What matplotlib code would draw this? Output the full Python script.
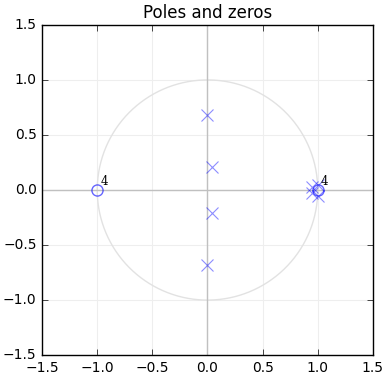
import numpy as np
import matplotlib
matplotlib.use("Agg")
import matplotlib.pyplot as plt

# zeros (with multiplicity) and poles
zeros_re = [-1.0, 1.0]
zeros_im = [0.0, 0.0]
zeros_mult = [4, 4]
poles_re = [0.0, 0.0, 0.04, 0.04, 0.95, 0.95, 1.0, 1.0]
poles_im = [0.68, -0.68, 0.21, -0.21, 0.03, -0.03, 0.05, -0.05]

plt.style.use("classic")
fig = plt.figure(figsize=(3.9, 3.77), dpi=100)
ax = fig.add_axes([0.108, 0.058, 0.848, 0.876])

t = np.linspace(0, 2 * np.pi, 400)
ax.plot(np.cos(t), np.sin(t), color="#e2e2e2", lw=1)
ax.axhline(0, color="#c0c0c0", lw=1)
ax.axvline(0, color="#c0c0c0", lw=1)

ax.plot(zeros_re, zeros_im, "o", ms=8, mfc="none", mec="blue", mew=1, alpha=0.6)
ax.plot(poles_re, poles_im, "x", ms=8, mec="blue", mew=0.8, alpha=0.45)

for x, y, m in zip(zeros_re, zeros_im, zeros_mult):
    ax.text(x + 0.03, y + 0.05, str(m), fontsize=8.5, family="DejaVu Serif")

ax.set_xlim(-1.5, 1.5)
ax.set_ylim(-1.5, 1.5)
ax.set_xticks(np.arange(-1.5, 1.51, 0.5))
ax.set_yticks(np.arange(-1.5, 1.51, 0.5))
ax.grid(True, color="#eeeeee", linestyle="-", lw=0.8)
ax.set_axisbelow(True)
ax.tick_params(labelsize=10)
ax.set_title("Poles and zeros", fontsize=12)

fig.savefig("out.png", dpi=100)
